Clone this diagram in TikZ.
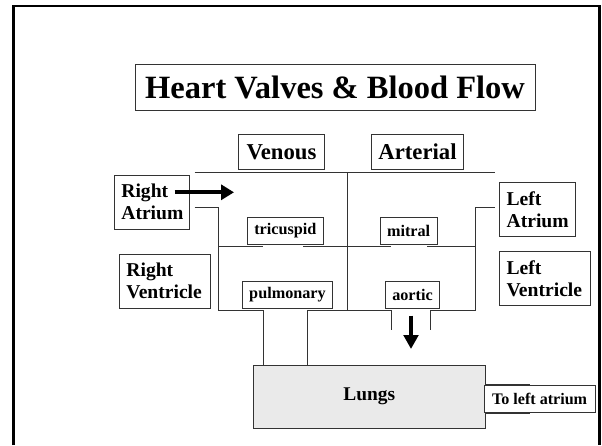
\documentclass[tikz,border=0pt]{standalone}
\usepackage{fontspec}
\setmainfont{Liberation Serif}
\usepackage{xcolor}
\usetikzlibrary{arrows.meta,positioning}
\definecolor{lunggray}{HTML}{EAEAEA}
\definecolor{wallcol}{HTML}{333333}

\begin{document}
\begin{tikzpicture}[
    x=1pt, y=-1pt,
    box/.style={draw=wallcol, line width=0.9pt, inner sep=0pt, font=\bfseries},
    chamber/.style={box, align=left, inner xsep=7pt, minimum height=54pt,
        font=\fontsize{19.6}{22}\selectfont\bfseries},
    valve/.style={box, minimum height=26.6pt, font=\fontsize{16.2}{18}\selectfont\bfseries},
    side/.style={box, minimum height=34.6pt, font=\fontsize{22.7}{25}\selectfont\bfseries},
    wall/.style={wallcol, line width=0.9pt},
    flow/.style={-{Triangle[length=13pt, width=15pt]}, line width=4pt},
]
\useasboundingbox (0,0) rectangle (602,445);

% ============================================================
% FRAME AND TITLE
% ============================================================
\draw[line width=2.5pt] (13.5,445) -- (13.5,6) -- (599.5,6) -- (599.5,445);
\node[box, minimum width=400pt, minimum height=46pt,
      font=\fontsize{32.5}{36}\selectfont\bfseries] (title) at (335,87.3) {Heart Valves \& Blood Flow};

% Column headings
\node[side, minimum width=86pt] (venous) at (281.5,152) {Venous};
\node[side, minimum width=92pt] (arterial) at (417.5,152) {Arterial};

% ============================================================
% CHAMBER LABELS
% ============================================================
\node[chamber, text width=61.3pt] (ratrium) at (152,202.3) {Right\\Atrium};
\node[chamber, text width=76.6pt] (rventricle) at (164.7,281.2) {Right\\Ventricle};
\node[chamber, text width=61.3pt] (latrium) at (537.3,209.3) {Left\\Atrium};
\node[chamber, text width=76.6pt] (lventricle) at (544.9,278.3) {Left\\Ventricle};

% ============================================================
% WALLS
% ============================================================
\coordinate (topL) at (194.7,172.7);
\coordinate (topR) at (494.6,172.7);
\coordinate (midT) at (347,172.7);
\coordinate (midB) at (347,310.3);
\draw[wall] (topL) -- (topR);
\draw[wall] (midT) -- (midB);

% Lungs
\node[box, fill=lunggray, minimum width=231.5pt, minimum height=63.3pt,
      font=\fontsize{19.4}{22}\selectfont\bfseries] (lungs) at (369.3,396.7) {Lungs};

% right side
\coordinate (raIn) at (194.7,207.3);
\coordinate (raC) at (218.9,207.3);
\coordinate (rvC) at (218.9,310.3);
\coordinate (pulL) at (263.4,310.3);
\draw[wall] (raIn) -- (raC) -- (rvC) -- (pulL) -- (pulL |- lungs.north);
\coordinate (pulR) at (307.7,310.3);
\coordinate (aoL) at (391.7,310.3);
\draw[wall] (pulR |- lungs.north) -- (pulR) -- (aoL) -- ++(0,19.7);

% left side
\coordinate (laIn) at (494.6,207.3);
\coordinate (laC) at (475.4,207.3);
\coordinate (lvC) at (475.4,310.3);
\coordinate (aoR) at (430.7,310.3);
\draw[wall] (laIn) -- (laC) -- (lvC) -- (aoR) -- ++(0,19.7);

% valve plane
\draw[wall] (218.9,246.7) -- (263.4,246.7);
\draw[wall] (303.4,246.7) -- (391,246.7);
\draw[wall] (427,246.7) -- (475.4,246.7);

% pipe out of the lungs
\draw[wall, line width=1.4pt] (lungs.east |- 0,384.3) -- ++(44.3,0);
\draw[wall, line width=1.4pt] (lungs.east |- 0,413.7) -- ++(44.3,0);

% ============================================================
% VALVES
% ============================================================
\node[valve, minimum width=76pt] (tricuspid) at (285.4,231) {tricuspid};
\node[valve, minimum width=56.8pt] (mitral) at (408.6,231) {mitral};
\node[valve, minimum width=90.3pt] (pulmonary) at (287.5,295) {pulmonary};
\node[valve, minimum width=53.7pt] (aortic) at (412.5,295) {aortic};
\node[valve, fill=white, minimum width=111.2pt, font=\fontsize{16.1}{18}\selectfont\bfseries] (tolatrium) at (539.6,399) {To left atrium};

% ============================================================
% FLOW ARROWS
% ============================================================
\coordinate (inS) at (174.7,192.3);
\coordinate (inE) at (234,192.3);
\draw[flow] (inS) -- (inE);
\coordinate (outS) at (411,315.7);
\coordinate (outE) at (411,349);
\draw[flow, -{Triangle[length=14pt, width=14.5pt]}] (outS) -- (outE);

\end{tikzpicture}
\end{document}
